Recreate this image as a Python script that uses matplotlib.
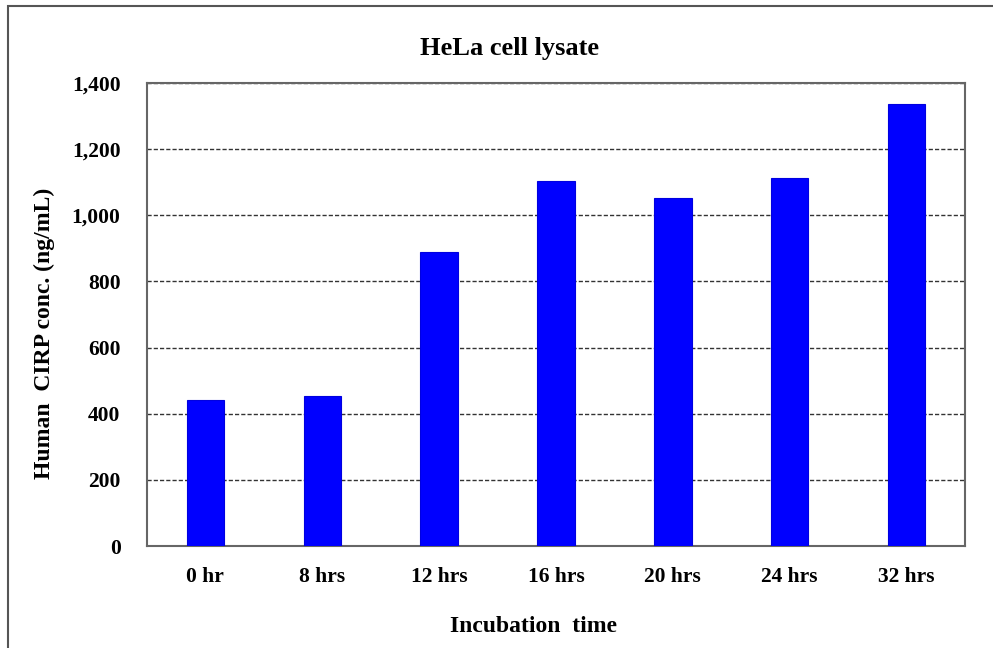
import matplotlib
matplotlib.use("Agg")
import matplotlib.pyplot as plt
from matplotlib.patches import Rectangle
from matplotlib.ticker import FuncFormatter

plt.rcParams["font.family"] = ["Liberation Serif", "DejaVu Serif"]
plt.rcParams["font.weight"] = "bold"

# Data
categories = ["0 hr", "8 hrs", "12 hrs", "16 hrs", "20 hrs", "24 hrs", "32 hrs"]
cirp_conc = [441, 453, 889, 1104, 1052, 1113, 1337]
y_ticks = [0, 200, 400, 600, 800, 1000, 1200, 1400]

W, H = 993, 648
fig = plt.figure(figsize=(W / 100, H / 100), dpi=100)
ax = fig.add_axes([147 / W, 1 - 546 / H, (965 - 147) / W, (546 - 83) / H])

x = range(len(categories))
ax.bar(x, cirp_conc, width=0.32, color="#0000FF", edgecolor="#0000E0",
       linewidth=0.8, zorder=3)

ax.set_xlim(-0.5, len(categories) - 0.5)
ax.set_ylim(0, 1400)
ax.set_yticks(y_ticks)
ax.yaxis.set_major_formatter(FuncFormatter(lambda v, _: f"{int(v):,}"))
ax.set_xticks(list(x))
ax.set_xticklabels(categories)
ax.tick_params(axis="both", length=0, labelsize=15.5)
ax.tick_params(axis="y", pad=19)
ax.tick_params(axis="x", pad=15)
for lbl in ax.get_xticklabels() + ax.get_yticklabels():
    lbl.set_fontweight("bold")

ax.grid(axis="y", color="#333333", linestyle=(0, (3, 1.5)), linewidth=1.0, zorder=1)
for s in ax.spines.values():
    s.set_color("#666666")
    s.set_linewidth(1.5)

fig.text(509 / W, 1 - 48 / H, "HeLa cell lysate", ha="center", va="center",
         fontsize=19, fontweight="bold")
fig.text(44 / W, 1 - 333 / H, "Human  CIRP conc. (ng/mL)", ha="center", va="center",
         rotation=90, fontsize=17, fontweight="bold")
fig.text(533 / W, 1 - 627 / H, "Incubation  time", ha="center", va="center",
         fontsize=17, fontweight="bold")

# outer frame of the original figure
fig.patches.append(Rectangle((8 / W, -0.1), 1.2, 1.1 - 6 / H, transform=fig.transFigure,
                             fill=False, edgecolor="#555555", linewidth=1.5))

fig.savefig("out.png", dpi=100)
